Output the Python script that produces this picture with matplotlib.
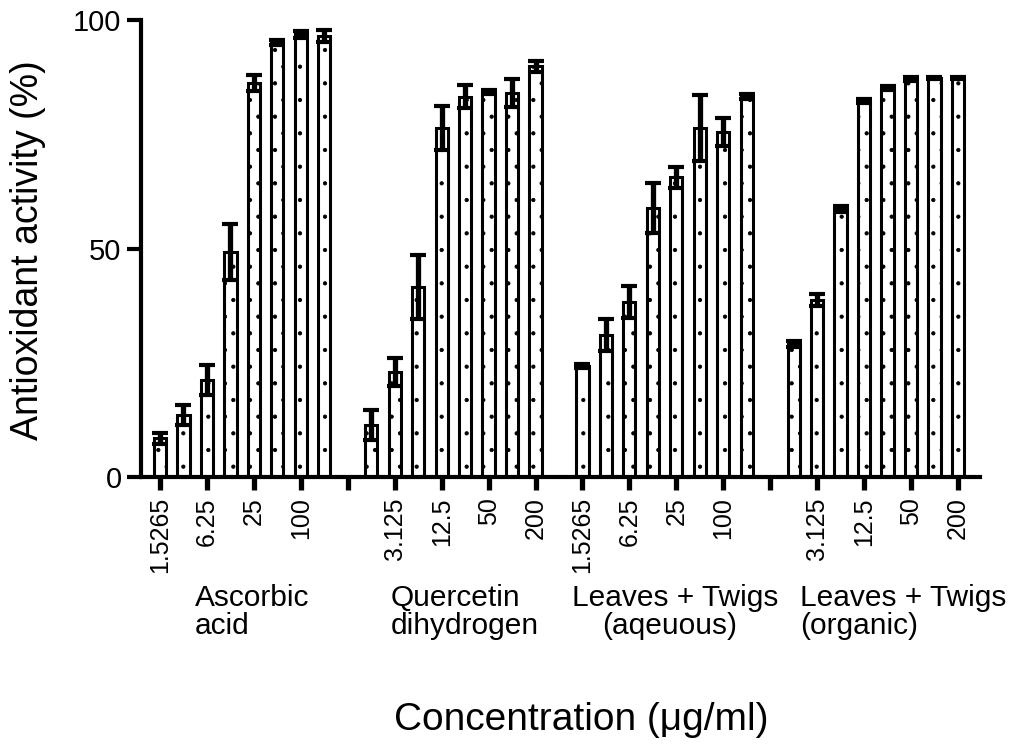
import matplotlib
matplotlib.use("Agg")
import matplotlib.pyplot as plt
import numpy as np

plt.rcParams['font.family'] = ['Liberation Sans', 'DejaVu Sans']
plt.rcParams['hatch.linewidth'] = 0.6
plt.rcParams['hatch.color'] = 'black'

# ---------------- data ----------------
concentrations = ["1.5265", "3.125", "6.25", "12.5", "25", "50", "100", "200"]
groups = ["Ascorbic\nacid", "Quercetin\ndihydrogen",
          "Leaves + Twigs\n(aqeuous)", "Leaves + Twigs\n(organic)"]

ascorbic = [8.5, 13.6, 21.2, 49.2, 86.2, 95.1, 96.9, 96.5]
ascorbic_err = [1.2, 2.2, 3.3, 6.2, 1.7, 0.6, 0.8, 1.3]

quercetin = [11.4, 23.0, 41.6, 76.4, 83.2, 84.2, 84.0, 89.9]
quercetin_err = [3.2, 3.0, 7.0, 4.8, 2.5, 0.5, 3.0, 1.2]

aqueous = [24.3, 31.1, 38.3, 58.9, 65.6, 76.4, 75.5, 83.2]
aqueous_err = [0.5, 3.5, 3.6, 5.5, 2.3, 7.2, 3.0, 0.5]

organic = [29.1, 38.7, 58.6, 82.3, 85.1, 87.1, 87.3, 87.3]
organic_err = [0.7, 1.3, 0.6, 0.4, 0.4, 0.4, 0.3, 0.3]

series = [ascorbic, quercetin, aqueous, organic]
series_err = [ascorbic_err, quercetin_err, aqueous_err, organic_err]

# ---------------- figure ----------------
fig = plt.figure(figsize=(10.25, 7.53), dpi=100)
ax = fig.add_axes([141 / 1025, 1 - 477 / 753, (980 - 141) / 1025, (477 - 20) / 753])

n = len(concentrations)
stride = n + 1
for g, (vals, errs) in enumerate(zip(series, series_err)):
    x = g * stride + np.arange(n)
    ax.bar(x, vals, width=0.52, color='white', edgecolor='black',
           linewidth=2.2, hatch='.', zorder=2)
    ax.errorbar(x, vals, yerr=errs, fmt='none', ecolor='black',
                elinewidth=3.8, capsize=5.5, capthick=3.0, zorder=3)

total = stride * len(series) - 1
ax.set_xlim(-0.81, total - 1 + 0.94)
ax.set_ylim(0, 100)

tick_pos = np.arange(0, total, 2)
tick_lab = []
for s in tick_pos:
    g, i = divmod(s, stride)
    tick_lab.append(concentrations[i] if i < n else "")
ax.set_xticks(tick_pos)
ax.set_xticklabels(tick_lab, rotation=90, fontsize=18)
ax.set_yticks([0, 50, 100])
ax.set_yticklabels(["0", "50", "100"], fontsize=21)

for side in ['top', 'right']:
    ax.spines[side].set_visible(False)
for side in ['left', 'bottom']:
    ax.spines[side].set_linewidth(3.0)
ax.tick_params(axis='x', length=9.5, width=3.8, pad=5)
ax.tick_params(axis='y', length=10, width=3.0, pad=4)

# group labels
fs_group = 21.5
line1_y = 1 - 606 / 753
line2_y = 1 - 634 / 753
lefts = [195, 391, 572, 800]
for g, (lab, lx) in enumerate(zip(groups, lefts)):
    l1, l2 = lab.split("\n")
    fig.text(lx / 1025, line1_y, l1, ha='left', va='baseline', fontsize=fs_group)
    if g == 2:
        fig.text(670 / 1025, line2_y, l2, ha='center', va='baseline', fontsize=fs_group)
    else:
        fig.text(lx / 1025, line2_y, l2, ha='left', va='baseline', fontsize=fs_group)

fig.text(581 / 1025, 1 - 720 / 753, "Concentration (μg/ml)", ha='center', va='center', fontsize=28)
fig.text(28 / 1025, 1 - 250 / 753, "Antioxidant activity (%)", rotation=90,
         ha='center', va='center', fontsize=27)

fig.savefig("out.png", dpi=100)
